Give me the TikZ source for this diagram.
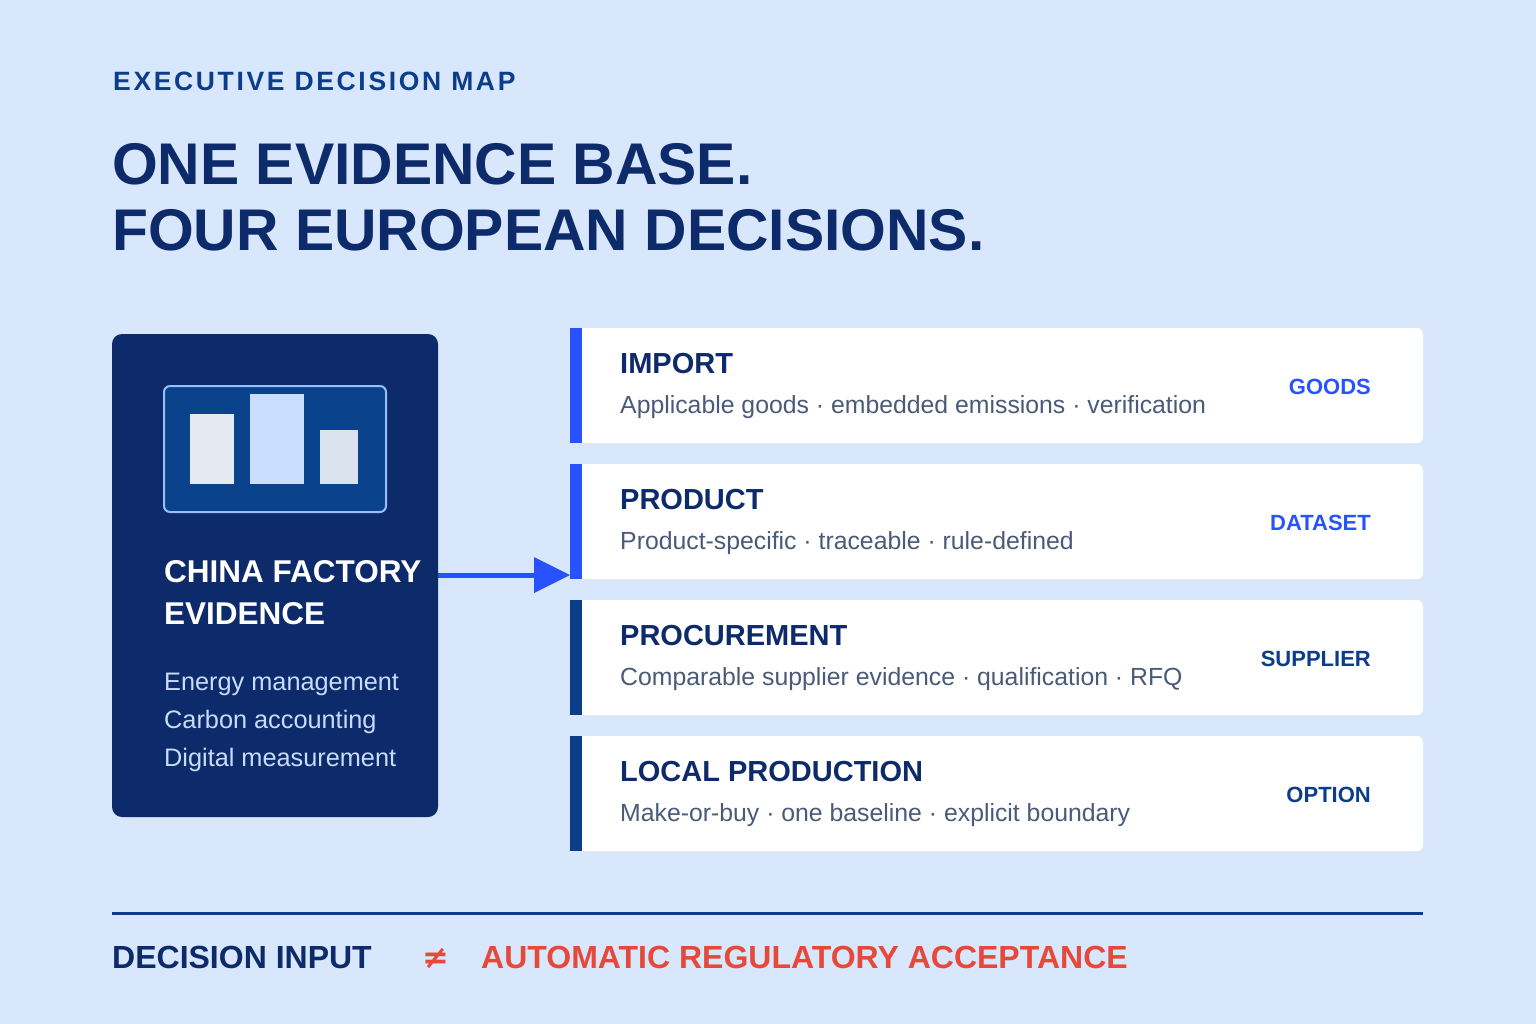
\documentclass[tikz,border=0pt]{standalone}
\usepackage{fontspec}
\setmainfont{Liberation Sans}
\newfontfamily\djv{DejaVu Sans}
\definecolor{bg}{HTML}{D9E7FD}
\definecolor{navy}{HTML}{0D2B6B}
\definecolor{dk}{HTML}{0B3D8A}
\definecolor{brt}{HTML}{2952FF}
\definecolor{grey}{HTML}{4A5A78}
\definecolor{redc}{HTML}{E8483A}
\definecolor{iconbg}{HTML}{0A438C}
\definecolor{iconbd}{HTML}{96BEFA}
\definecolor{barA}{HTML}{E4E9F2}
\definecolor{barB}{HTML}{C8DEFC}
\definecolor{barC}{HTML}{DAE2EE}
\definecolor{listc}{HTML}{C8DCFA}
\begin{document}
\begin{tikzpicture}[x=1pt,y=-1pt,
  card/.style={fill=white,rounded corners=6pt},
  tx/.style={anchor=base west,inner sep=0},
  ct/.style={tx,font=\bfseries\fontsize{29}{30}\selectfont,text=navy},
  cs/.style={tx,font=\fontsize{24.8}{26}\selectfont,text=grey},
  cl/.style={anchor=base east,font=\bfseries\fontsize{22}{24}\selectfont,inner sep=0},
  lw/.style={tx,text=white,font=\bfseries\fontsize{31.5}{42}\selectfont},
  li/.style={tx,text=listc,font=\fontsize{25.3}{38}\selectfont},
  big/.style={tx,text=navy,font=\bfseries\fontsize{58.8}{66}\selectfont}]
\fill[bg] (0,0) rectangle (1536,1024);
\useasboundingbox (0,0) rectangle (1536,1024);
\node[tx,text=dk,font=\bfseries\fontsize{26.5}{28}\selectfont] (hdr) at (113,91) {\addfontfeature{LetterSpace=10}EXECUTIVE DECISION MAP};
\node[big] (t1) at (112,185) {ONE EVIDENCE BASE.};
\node[big] (t2) at (112,251) {FOUR EUROPEAN DECISIONS.};
% left panel
\fill[navy,rounded corners=10pt] (112,334) rectangle (438,817);
\node[fill=iconbg,draw=iconbd,line width=2pt,rounded corners=6pt,minimum width=222,minimum height=126,inner sep=0] (icon) at (275,449) {};
\fill[barA] (190,414) rectangle (234,484);
\fill[barB] (250,394) rectangle (304,484);
\fill[barC] (320,430) rectangle (358,484);
\node[lw] (lt1) at (164,582) {CHINA FACTORY};
\node[lw] (lt2) at (164,624) {EVIDENCE};
\node[li] (l1) at (164,690) {Energy management};
\node[li] (l2) at (164,728) {Carbon accounting};
\node[li] (l3) at (164,766) {Digital measurement};
% cards
\foreach \y/\c/\t/\s/\l [count=\i] in {328/brt/IMPORT/{Applicable goods · embedded emissions · verification}/GOODS,
  464/brt/PRODUCT/{Product-specific · traceable · rule-defined}/DATASET,
  600/dk/PROCUREMENT/{Comparable supplier evidence · qualification · RFQ}/SUPPLIER,
  736/dk/LOCAL PRODUCTION/{Make-or-buy · one baseline · explicit boundary}/OPTION}{
  \fill[card] (570,\y) rectangle (1423,\y+115);
  \fill[\c] (570,\y) rectangle (582,\y+115);
  \node[ct] (ct\i) at (620,\y+45) {\t};
  \node[cs] (cs\i) at (620,\y+85) {\s};
  \node[cl,text=\c] (cl\i) at (1371,\y+66) {\l};
}
\coordinate (a0) at (438,575);
\coordinate (a1) at (570,575);
\draw[brt,line width=5pt] (a0) -- (536,575);
\fill[brt] (534,557) -- (a1) -- (534,593) -- cycle;
% bottom
\draw[dk,line width=3pt] (112,913) -- (1423,913);
\node[tx,text=navy,font=\bfseries\fontsize{32}{33}\selectfont] (d1) at (112,968) {DECISION INPUT};
\node[tx,text=redc,font=\djv\bfseries\fontsize{32}{33}\selectfont] (ne) at (422,968) {≠};
\node[tx,text=redc,font=\bfseries\fontsize{32}{33}\selectfont] (d2) at (481,968) {AUTOMATIC REGULATORY ACCEPTANCE};
\end{tikzpicture}
\end{document}
